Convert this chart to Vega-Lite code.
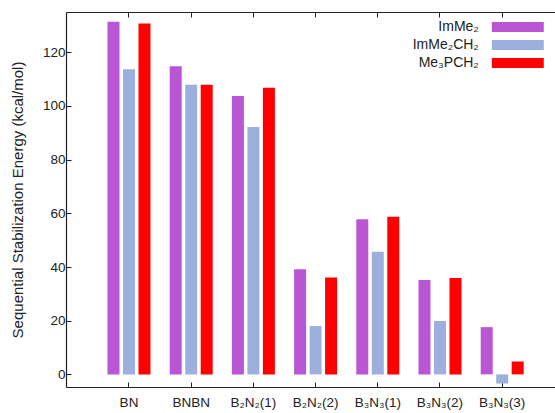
{
  "$schema": "https://vega.github.io/schema/vega-lite/v6.json",
  "autosize": "none",
  "width": 489,
  "height": 375,
  "padding": {"left": 66, "top": 12, "right": 0, "bottom": 26},
  "background": "white",
  "config": {
    "view": {"stroke": null},
    "font": "Liberation Sans",
    "axis": {"domainColor": "#222", "domainWidth": 1.2, "tickColor": "#222", "labelColor": "#222", "titleColor": "#222", "grid": false, "labelFontSize": 13.5, "titleFontWeight": "normal"}
  },
  "data": {"values": [
    {"compound": "BN", "series": "ImMe₂", "energy": 131.4},
    {"compound": "BN", "series": "ImMe₂CH₂", "energy": 113.7},
    {"compound": "BN", "series": "Me₃PCH₂", "energy": 130.7},
    {"compound": "BNBN", "series": "ImMe₂", "energy": 114.8},
    {"compound": "BNBN", "series": "ImMe₂CH₂", "energy": 107.9},
    {"compound": "BNBN", "series": "Me₃PCH₂", "energy": 107.9},
    {"compound": "B₂N₂(1)", "series": "ImMe₂", "energy": 103.7},
    {"compound": "B₂N₂(1)", "series": "ImMe₂CH₂", "energy": 92.2},
    {"compound": "B₂N₂(1)", "series": "Me₃PCH₂", "energy": 106.8},
    {"compound": "B₂N₂(2)", "series": "ImMe₂", "energy": 39.2},
    {"compound": "B₂N₂(2)", "series": "ImMe₂CH₂", "energy": 18.0},
    {"compound": "B₂N₂(2)", "series": "Me₃PCH₂", "energy": 36.1},
    {"compound": "B₃N₃(1)", "series": "ImMe₂", "energy": 57.8},
    {"compound": "B₃N₃(1)", "series": "ImMe₂CH₂", "energy": 45.7},
    {"compound": "B₃N₃(1)", "series": "Me₃PCH₂", "energy": 58.7},
    {"compound": "B₃N₃(2)", "series": "ImMe₂", "energy": 35.2},
    {"compound": "B₃N₃(2)", "series": "ImMe₂CH₂", "energy": 19.9},
    {"compound": "B₃N₃(2)", "series": "Me₃PCH₂", "energy": 35.9},
    {"compound": "B₃N₃(3)", "series": "ImMe₂", "energy": 17.6},
    {"compound": "B₃N₃(3)", "series": "ImMe₂CH₂", "energy": -3.4},
    {"compound": "B₃N₃(3)", "series": "Me₃PCH₂", "energy": 4.8}
  ]},
  "layer": [
    {
      "mark": {"type": "bar"},
      "encoding": {
        "x": {"field": "compound", "type": "nominal", "sort": null,
          "scale": {"paddingInner": 0, "paddingOuter": 0.431, "align": 0.595},
          "axis": {"orient": "bottom", "title": null, "labelAngle": 0, "tickSize": -5, "labelPadding": 13, "labelFontSize": 13.5}},
        "xOffset": {"field": "series", "type": "nominal", "sort": null,
          "scale": {"paddingInner": 0.226, "paddingOuter": 0.62}},
        "y": {"field": "energy", "type": "quantitative",
          "scale": {"domain": [-4.7, 135], "nice": false, "zero": false},
          "axis": {"values": [0, 20, 40, 60, 80, 100, 120], "tickSize": -5, "labelPadding": 6, "title": "Sequential Stabilization Energy (kcal/mol)", "titleFontSize": 15, "titleX": -41, "titleY": 187.5}},
        "color": {"field": "series", "type": "nominal", "sort": null,
          "scale": {"range": ["#BA55D3", "#9DAFDD", "#FF0000"]},
          "legend": {"title": null, "orient": "none", "legendX": 444.8, "legendY": 8, "symbolType": "M-5,-0.96H5V0.96H-5Z", "symbolSize": 108, "symbolStrokeWidth": 0, "labelAlign": "right", "labelOffset": -46, "labelFontSize": 14, "labelColor": "#222", "rowPadding": 4, "padding": 0}}
      }
    },
    {
      "mark": {"type": "bar", "opacity": 0},
      "encoding": {
        "x": {"field": "compound", "type": "nominal", "sort": null,
          "axis": {"orient": "top", "title": null, "labels": false, "tickSize": -5}},
        "y": {"field": "energy", "type": "quantitative"}
      }
    }
  ],
  "resolve": {"axis": {"x": "independent"}}
}
